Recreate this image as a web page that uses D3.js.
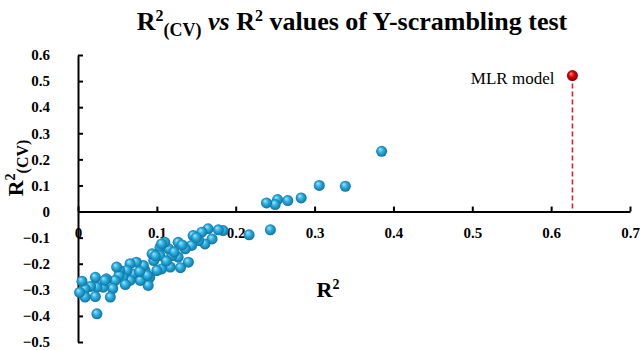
<!DOCTYPE html>
<html lang="en">
<head>
<meta charset="utf-8">
<title>Y-scrambling test</title>
<script src="https://d3js.org/d3.v7.min.js"></script>
<style>
  body { margin: 0; background: #fff; }
  svg { display: block; font-family: "Liberation Serif", "Times New Roman", serif; }
</style>
</head>
<body>
<script>
// scrambled models: R2 and R2(CV)
const r2Values = [0.385, 0.306, 0.339, 0.283, 0.266, 0.253, 0.250, 0.239, 0.244, 0.217,
  0.184, 0.178, 0.170, 0.165, 0.157, 0.161, 0.153, 0.146, 0.144, 0.136,
  0.140, 0.127, 0.127, 0.119, 0.115, 0.110, 0.104, 0.104, 0.106, 0.117,
  0.106, 0.100, 0.096, 0.094, 0.091, 0.089, 0.085, 0.083, 0.079, 0.074,
  0.070, 0.066, 0.066, 0.062, 0.057, 0.053, 0.052, 0.049, 0.047, 0.044,
  0.041, 0.036, 0.032, 0.024, 0.022, 0.022, 0.024, 0.016, 0.009, 0.009,
  0.005, 0.034, 0.088, 0.112, 0.122, 0.132, 0.150, 0.098, 0.078, 0.060,
  0.130, 0.002];
const r2cvValues = [0.231, 0.100, 0.097, 0.052, 0.042, 0.046, 0.027, 0.033, -0.070, -0.089,
  -0.073, -0.070, -0.105, -0.066, -0.079, -0.124, -0.111, -0.092, -0.130, -0.143,
  -0.194, -0.118, -0.175, -0.169, -0.143, -0.118, -0.137, -0.169, -0.124, -0.213,
  -0.220, -0.226, -0.188, -0.162, -0.252, -0.283, -0.226, -0.207, -0.264, -0.194,
  -0.239, -0.200, -0.264, -0.226, -0.252, -0.226, -0.245, -0.213, -0.264, -0.295,
  -0.328, -0.258, -0.290, -0.290, -0.252, -0.326, -0.392, -0.287, -0.296, -0.328,
  -0.267, -0.264, -0.245, -0.190, -0.155, -0.128, -0.100, -0.170, -0.230, -0.280,
  -0.215, -0.310];
// the real model
const mlrPoint = [0.627, 0.521];
const mlrLabel = "MLR model";

const xTicks = [0, 0.1, 0.2, 0.3, 0.4, 0.5, 0.6, 0.7];
const yTicks = [-0.5, -0.4, -0.3, -0.2, -0.1, 0, 0.1, 0.2, 0.3, 0.4, 0.5, 0.6];

const width = 644, height = 350;

const svg = d3.select("body").append("svg")
  .attr("width", width)
  .attr("height", height);

const x = d3.scaleLinear().domain([0, 0.7]).range([78, 630]);
const y = d3.scaleLinear().domain([-0.5, 0.6]).range([342, 55]);

// gradients for the ball markers
const defs = svg.append("defs");
function ball(id, c0, c1, c2) {
  const g = defs.append("radialGradient").attr("id", id)
    .attr("cx", "50%").attr("cy", "50%").attr("r", "55%")
    .attr("fx", "35%").attr("fy", "30%");
  g.append("stop").attr("offset", "0%").attr("stop-color", c0);
  g.append("stop").attr("offset", "45%").attr("stop-color", c1);
  g.append("stop").attr("offset", "100%").attr("stop-color", c2);
}
ball("blueBall", "#a8e6ff", "#2aaee0", "#0a6a96");
ball("redBall", "#ff9090", "#e00000", "#7a0000");

// title
const title = svg.append("text")
  .attr("x", 352).attr("y", 30)
  .attr("text-anchor", "middle")
  .style("font-size", "26px").style("font-weight", "bold");
title.append("tspan").text("R");
title.append("tspan").attr("dy", -9).style("font-size", "16px").text("2");
title.append("tspan").attr("dy", 15).style("font-size", "18px").text("(CV)");
title.append("tspan").attr("dy", -6).style("font-style", "italic").text(" vs");
title.append("tspan").text(" R");
title.append("tspan").attr("dy", -9).style("font-size", "16px").text("2");
title.append("tspan").attr("dy", 9).text(" values of Y-scrambling test");

// axes
const xAxis = d3.axisBottom(x).tickValues(xTicks)
  .tickFormat(d => d === 0 ? "0" : d3.format(".1f")(d))
  .tickSizeInner(-5).tickSizeOuter(0).tickPadding(16);
const yAxis = d3.axisLeft(y).tickValues(yTicks)
  .tickFormat(d => d === 0 ? "0" : d3.format(".1f")(d))
  .tickSizeInner(-5).tickSizeOuter(0).tickPadding(28);

svg.append("g").attr("class", "axis")
  .attr("transform", "translate(0," + y(0) + ")")
  .call(xAxis);
svg.append("g").attr("class", "axis")
  .attr("transform", "translate(" + x(0) + ",0)")
  .call(yAxis);

svg.selectAll(".axis path, .axis line")
  .attr("stroke", "#000").attr("stroke-width", 2);
svg.selectAll(".axis text")
  .attr("fill", "#000")
  .style("font-family", "Liberation Serif, serif")
  .style("font-size", "15px").style("font-weight", "bold");

// axis titles
const yLab = svg.append("text")
  .attr("transform", "translate(23,168) rotate(-90)")
  .attr("text-anchor", "middle")
  .style("font-size", "22px").style("font-weight", "bold");
yLab.append("tspan").text("R");
yLab.append("tspan").attr("dy", -8).style("font-size", "14px").text("2");
yLab.append("tspan").attr("dy", 13).style("font-size", "16px").text("(CV)");

const xLab = svg.append("text")
  .attr("x", 328).attr("y", 297)
  .attr("text-anchor", "middle")
  .style("font-size", "22px").style("font-weight", "bold");
xLab.append("tspan").text("R");
xLab.append("tspan").attr("dy", -8).style("font-size", "14px").text("2");

// scrambled points
const pts = r2Values.map((v, i) => ({ r2: v, cv: r2cvValues[i] }));
svg.append("g").selectAll("circle")
  .data(pts)
  .enter()
  .append("circle")
  .attr("cx", d => x(d.r2))
  .attr("cy", d => y(d.cv))
  .attr("r", 5.5)
  .attr("fill", "url(#blueBall)");

// MLR model
svg.append("line")
  .attr("x1", x(mlrPoint[0])).attr("x2", x(mlrPoint[0]))
  .attr("y1", y(mlrPoint[1])).attr("y2", y(0))
  .attr("stroke", "#e8201c").attr("stroke-width", 1.6)
  .attr("stroke-dasharray", "5,3");
svg.append("circle")
  .attr("cx", x(mlrPoint[0])).attr("cy", y(mlrPoint[1]))
  .attr("r", 5.5)
  .attr("fill", "url(#redBall)");
svg.append("text")
  .attr("x", x(mlrPoint[0]) - 18).attr("y", y(mlrPoint[1]) + 8)
  .attr("text-anchor", "end")
  .style("font-size", "17px")
  .text(mlrLabel);
</script>
</body>
</html>
